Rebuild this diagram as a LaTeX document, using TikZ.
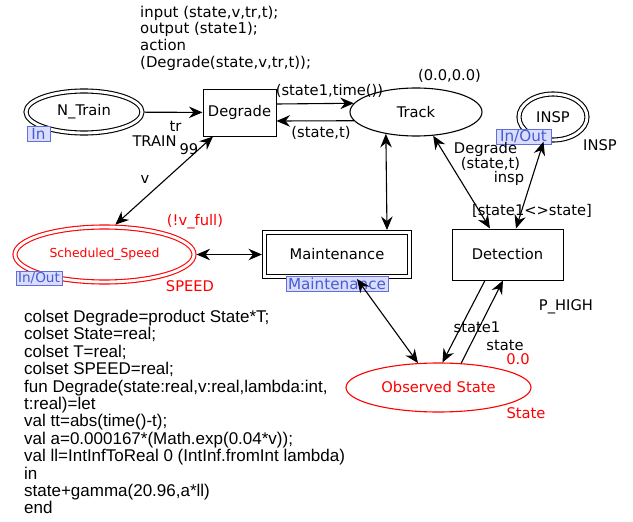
\documentclass[tikz,border=0pt]{standalone}
\usepackage{fontspec}
\setmainfont{DejaVu Sans}
\newfontfamily\codefont{Liberation Sans}
\usetikzlibrary{shapes.geometric,arrows.meta}
\definecolor{tagfill}{RGB}{218,222,252}
\definecolor{tagdraw}{RGB}{95,112,222}
\definecolor{tagtext}{RGB}{72,92,212}
\newcommand{\lbl}{\fontsize{14.7}{17}\selectfont}
\newcommand{\taglbl}{\fontsize{15.2}{17}\selectfont}
\newcommand{\smlbl}{\fontsize{12.4}{14}\selectfont}
\newcommand{\cdf}{\codefont\fontsize{17}{19}\selectfont}
\tikzset{
  lab/.style={font=\lbl, inner sep=0pt},
  redlab/.style={lab, text=red},
  codeline/.style={font=\cdf, inner sep=0pt, anchor=base west},
  place/.style={ellipse, draw, line width=1.1pt, inner sep=0pt, font=\lbl},
  dplace/.style={place, double, double distance=2.9pt, outer sep=2.55pt},
  trans/.style={rectangle, draw, line width=1pt, inner sep=0pt, font=\lbl},
  tag/.style={rectangle, draw=tagdraw, fill=tagfill, text=tagtext, line width=0.8pt, inner sep=0pt, font=\taglbl},
  tip/.tip={Stealth[length=13.5pt,width=11.5pt,inset=4.5pt]},
  arc/.style={line width=1.1pt, -tip},
  biarc/.style={line width=1.1pt, tip-tip},
}
\begin{document}
\begin{tikzpicture}[x=1pt,y=-1pt]
\useasboundingbox (0,0) rectangle (633,522);
\fill[white] (0,0) rectangle (633,522);

% declarations at top
\node[lab, anchor=base west, font=\fontsize{14.9}{17}\selectfont] (t1) at (140,17.2) {input (state,v,tr,t);};
\node[lab, anchor=base west, font=\fontsize{14.9}{17}\selectfont] (t2) at (140,33.9) {output (state1);};
\node[lab, anchor=base west, font=\fontsize{14.9}{17}\selectfont] (t3) at (140,50.6) {action};
\node[lab, anchor=base west, font=\fontsize{14.9}{17}\selectfont] (t4) at (140,67.3) {(Degrade(state,v,tr,t));};

% places
\node[dplace, minimum width=116pt, minimum height=42pt] (ntrain) at (84,112) {N\_Train};
\node[place, minimum width=132pt, minimum height=48pt] (track) at (416,112) {Track};
\node[dplace, minimum width=68pt, minimum height=46pt] (insp) at (553,117) {INSP};
\node[dplace, draw=red, text=red, font=\smlbl, minimum width=179pt, minimum height=55pt] (sched) at (104.5,254.5) {Scheduled\_Speed};
\node[place, draw=red, text=red, minimum width=185pt, minimum height=49pt] (obs) at (438.5,387.5) {Observed State};

% transitions
\node[trans, minimum width=73pt, minimum height=47pt] (degrade) at (239.5,112.5) {Degrade};
\node[trans, minimum width=111pt, minimum height=51pt] (detect) at (507.5,254.5) {Detection};
\node[trans, double, double distance=2.6pt, outer sep=2.3pt, minimum width=145.4pt, minimum height=44.4pt] (maint) at (337,254.5) {Maintenance};

% port / substitution tags
\node[tag, minimum width=23pt, minimum height=15pt] (tagin) at (38.5,133.5) {In};
\node[tag, minimum width=55pt, minimum height=15pt] (taginsp) at (523.5,136.5) {In/Out};
\node[tag, font=\fontsize{13.6}{15}\selectfont, minimum width=46pt, minimum height=14pt] (tagsched) at (39,278) {In/Out};
\node[tag, minimum width=102pt, minimum height=15pt] (tagmaint) at (337,283.5) {Maintenance};

% arcs
\draw[arc] (ntrain) -- (degrade);
\draw[arc] ([yshift=8.5pt]degrade.east) -- (track.172.67);
\draw[arc] (track.188.37) -- ([yshift=-8.5pt]degrade.east);
\draw[biarc] (sched.70.4) -- ([xshift=-26.5pt]degrade.south);
\draw[biarc] (sched.east) -- (maint.west);
\draw[biarc] (track.216.7) -- ([xshift=50pt]maint.north);
\draw[biarc] (track.306.2) -- ([xshift=-17.5pt]detect.north);
\draw[biarc] (insp.249.4) -- ([xshift=8.5pt]detect.north);
\draw[biarc] ([xshift=20pt]maint.south) -- (obs.130.6);
\draw[arc] ([xshift=-22.5pt]detect.south) -- (obs.81.87);
\draw[arc] (obs.47.9) -- ([xshift=-4.5pt]detect.south);

% inscriptions
\node[lab] (l1) at (329.5,91) {(state1,time())};
\node[lab] (l2) at (321,133) {(state,t)};
\node[lab] (l3) at (449.5,76) {(0.0,0.0)};
\node[lab] (l4) at (175.5,126) {tr};
\node[lab] (l5) at (154.5,141) {TRAIN};
\node[lab] (l6) at (189,149) {99};
\node[lab] (l7) at (145,179) {v};
\node[redlab] (l8) at (195,222) {(!v\_full)};
\node[redlab] (l9) at (190,286) {SPEED};
\node[lab] (l10) at (485.5,149) {Degrade};
\node[lab] (l11) at (490.5,164) {(state,t)};
\node[lab] (l12) at (509,178) {insp};
\node[lab] (l13) at (600,145) {INSP};
\node[lab] (l14) at (532,211) {[state1<>state]};
\node[lab] (l15) at (566,307) {P\_HIGH};
\node[lab] (l16) at (477,327) {state1};
\node[lab] (l17) at (505,345) {state};
\node[redlab] (l18) at (518,359) {0.0};
\node[redlab] (l19) at (526,413) {State};

% declarations at bottom
\node[codeline] (d1) at (24,322.5) {colset Degrade=product State*T;};
\node[codeline] (d2) at (24,339.9) {colset State=real;};
\node[codeline] (d3) at (24,357.3) {colset T=real;};
\node[codeline] (d4) at (24,374.7) {colset SPEED=real;};
\node[codeline] (d5) at (24,392.1) {fun Degrade(state:real,v:real,lambda:int,};
\node[codeline] (d6) at (24,409.5) {t:real)=let};
\node[codeline] (d7) at (24,426.9) {val tt=abs(time()-t);};
\node[codeline] (d8) at (24,444.3) {val a=0.000167*(Math.exp(0.04*v));};
\node[codeline] (d9) at (24,461.7) {val ll=IntInfToReal 0 (IntInf.fromInt lambda)};
\node[codeline] (d10) at (24,479.1) {in};
\node[codeline] (d11) at (24,496.5) {state+gamma(20.96,a*ll)};
\node[codeline] (d12) at (24,513.9) {end};
\end{tikzpicture}
\end{document}
